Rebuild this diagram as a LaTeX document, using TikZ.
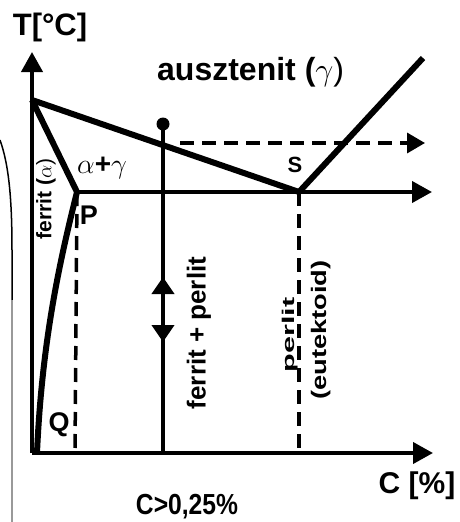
\RequirePackage{fix-cm}
\documentclass[tikz,border=0pt]{standalone}
\usepackage{fontspec}
\setmainfont{Liberation Sans}
\usetikzlibrary{arrows.meta}

\begin{document}
\begin{tikzpicture}[
    x=1pt, y=-1pt, font=\bfseries,
    axis/.style={line width=4pt, -{Triangle[length=20pt,width=21pt]}},
    phase/.style={line width=6pt, line join=round},
    iso/.style={line width=4pt},
    aux/.style={line width=3.5pt, dash pattern=on 14pt off 8pt},
    tip/.style={line width=4pt, -{Triangle[length=17pt,width=22pt]}},
    lbl/.style={inner sep=0pt, font=\bfseries\fontsize{#1}{#1}\selectfont},
    lbl/.default=26
]
\useasboundingbox (0,0) rectangle (459,522);

% Points of the diagram
\coordinate (O)  at (32,453);
\coordinate (A)  at (32,100);
\coordinate (P)  at (77,192);
\coordinate (S)  at (299,192);
\coordinate (Q)  at (37,453);
\coordinate (G)  at (423,58);
\coordinate (Tt) at (32,52);
\coordinate (Ct) at (433,453);
\coordinate (Et) at (432,192);
\coordinate (X)  at (163,124);
\coordinate (X0) at (163,453);
\coordinate (D0) at (180,143);
\coordinate (D1) at (425,143);
\coordinate (P0) at (75,453);
\coordinate (S0) at (299,453);

% Frame remnant on the left
\draw[line width=1.5pt] (0,140) .. controls (9,165) and (12,200) .. (12,250) -- (12,300);
\draw[line width=1.5pt, black!40] (12,300) -- (12,522);

% Auxiliary dashed lines
\draw[aux] (P) -- (P0);
\draw[aux] (S) -- (S0);
\draw[aux, -{Triangle[length=18pt,width=20pt]}] (D0) -- (D1);

% Eutectoid line and alloy line
\draw[iso, -{Triangle[length=20pt,width=21pt]}] (P) -- (Et);
\draw[iso] (X) -- (X0);
\fill (X) circle (6.5pt);
\draw[tip] (163,300) -- (163,277);
\draw[tip] (163,318) -- (163,342);

% Axes
\draw[axis] (O) -- (Tt);
\draw[axis] (O) -- (Ct);

% Phase boundaries
\draw[phase] (A) -- (S) -- (G);
\draw[phase] (A) -- (P) .. controls (60,260) and (42,340) .. (Q);

% Labels
\node[lbl=31] (tlab) at (50,27) {T[°C]};
\node[lbl=32, anchor=base west] (aus) at (157,80) {ausztenit (\mdseries$\gamma$)};
\node[lbl=28, anchor=base west] (ag) at (77,173) {\mdseries$\alpha$\bfseries+\mdseries$\gamma$};
\node[lbl=21, rotate=90] (fer) at (46,199) {ferrit (\mdseries$\alpha$)};
\node[lbl=27] (plab) at (89,215) {P};
\node[lbl=22] (slab) at (295,165) {S};
\node[lbl=27] (qlab) at (59,425) {Q};
\node[lbl=26, rotate=90] (fp) at (199,333) {ferrit + perlit};
\node[lbl=17, rotate=90] (per) at (290,335) {\scalebox{1.8}[1]{perlit}};
\node[lbl=21, rotate=90] (eut) at (321,330) {\scalebox{1.3}[1]{(eutektoid)}};
\node[lbl=30] (clab) at (417,486) {C [\%]};
\node[lbl=29] (cval) at (187,507) {\scalebox{0.85}[1]{C>0,25\%}};
\end{tikzpicture}
\end{document}
